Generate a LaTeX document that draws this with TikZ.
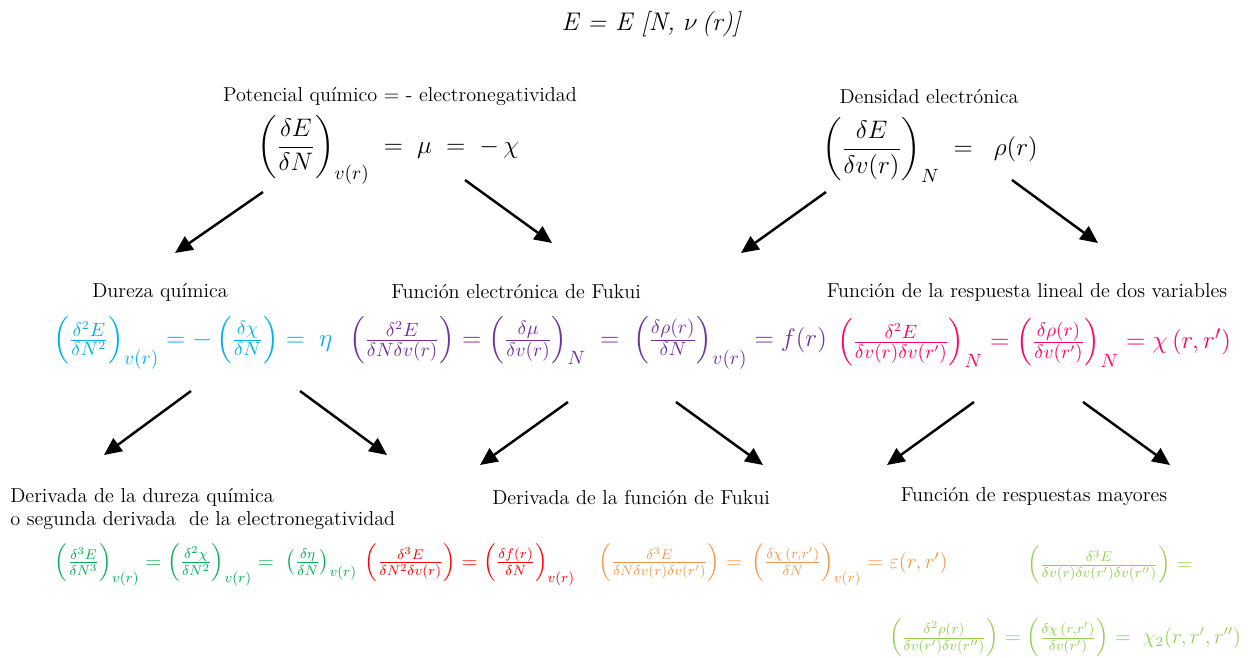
\documentclass[tikz,border=0pt]{standalone}
\usepackage{amsmath,amssymb}
\usepackage{xcolor}
\usetikzlibrary{arrows.meta,positioning}
\definecolor{durezaCyan}{RGB}{0,176,240}
\definecolor{fukuiPurple}{RGB}{112,48,160}
\definecolor{respuestaPink}{RGB}{255,0,102}
\definecolor{derivGreen}{RGB}{0,176,80}
\definecolor{derivRed}{RGB}{255,0,0}
\definecolor{derivOrange}{RGB}{247,150,70}
\definecolor{mayorGreen}{RGB}{146,208,80}
\tikzset{
  etiqueta/.style={font=\fontsize{11.5}{13}\selectfont, inner sep=0pt},
  formulaA/.style={font=\fontsize{15}{18}\selectfont, inner sep=0pt},
  formulaB/.style={font=\fontsize{15}{18}\selectfont, inner sep=0pt},
  formulaC/.style={font=\fontsize{12}{14}\selectfont, inner sep=0pt},
  flecha/.style={line width=1.4pt, -{Triangle[length=10pt,width=9pt]}}
}
\begin{document}
\begin{tikzpicture}[x=0.02cm, y=-0.02cm]
    \useasboundingbox (0,0) rectangle (1250,658);
    % funcional de la energia
    \node[font=\fontsize{14.5}{17}\selectfont\itshape, inner sep=0pt] (energia) at (651,24)
      {E = E [N, $\nu\,$(r)]};
    % primer nivel
    \node[etiqueta] (potencialTxt) at (400,97) {Potencial químico = - electronegatividad};
    \node[formulaA] (potencial) at (388,150)
      {$\left(\dfrac{\delta E}{\delta N}\right)_{v(r)} \;=\; \mu \;=\; -\,\chi$};
    \node[etiqueta] (densidadTxt) at (929,97) {Densidad electrónica};
    \node[formulaA] (densidad) at (930,150)
      {$\left(\dfrac{\delta E}{\delta v(r)}\right)_{N} \;=\;\; \rho(r)$};
    % segundo nivel
    \node[etiqueta] (durezaTxt) at (160,292) {Dureza química};
    \node[formulaB, text=durezaCyan] (dureza) at (193,343)
      {$\left(\frac{\delta^2 E}{\delta N^2}\right)_{v(r)} = -\left(\frac{\delta \chi}{\delta N}\right) =\; \eta$};
    \node[etiqueta] (fukuiTxt) at (516,292) {Función electrónica de Fukui};
    \node[formulaB, text=fukuiPurple] (fukui) at (588,343)
      {$\left(\frac{\delta^2 E}{\delta N\delta v(r)}\right) = \left(\frac{\delta \mu}{\delta v(r)}\right)_{N} \;=\; \left(\frac{\delta \rho(r)}{\delta N}\right)_{v(r)} = f(r)$};
    \node[etiqueta] (respuestaTxt) at (1027,292) {Función de la respuesta lineal de dos variables};
    \node[formulaB, text=respuestaPink] (respuesta) at (1034,343)
      {$\left(\frac{\delta^2 E}{\delta v(r)\delta v(r')}\right)_{N} = \left(\frac{\delta \rho(r)}{\delta v(r')}\right)_{N} = \chi\,(r,r')$};
    % tercer nivel
    \node[etiqueta, anchor=west] (dDurezaTxt) at (10,497) {Derivada de la dureza química};
    \node[etiqueta, anchor=west] (dDurezaTxtB) at (10,521) {o segunda derivada\ \ de la electronegatividad};
    \node[formulaC, text=derivGreen] (dDureza) at (206,565)
      {$\left(\frac{\delta^3 E}{\delta N^3}\right)_{v(r)} = \left(\frac{\delta^2 \chi}{\delta N^2}\right)_{v(r)} =\; \left(\frac{\delta \eta}{\delta N}\right)_{v(r)}$};
    \node[formulaC, text=derivRed] (dFukuiA) at (470,565)
      {$\left(\frac{\delta^3 E}{\delta N^2\delta v(r)}\right) = \left(\frac{\delta f(r)}{\delta N}\right)_{v(r)}$};
    \node[etiqueta] (dFukuiTxt) at (631,497) {Derivada de la función de Fukui};
    \node[formulaC, text=derivOrange] (dFukuiB) at (773,565)
      {$\left(\frac{\delta^3 E}{\delta N\delta v(r)\delta v(r')}\right) =\, \left(\frac{\delta \chi\,(r,r')}{\delta N}\right)_{v(r)} = \varepsilon(r,r')$};
    \node[etiqueta] (mayoresTxt) at (1034,497) {Función de respuestas mayores};
    \node[formulaC, text=mayorGreen] (mayoresA) at (1110,565)
      {$\left(\frac{\delta^3 E}{\delta v(r)\delta v(r')\delta v(r'')}\right) =$};
    \node[formulaC, text=mayorGreen] (mayoresB) at (1065,638)
      {$\left(\frac{\delta^2 \rho(r)}{\delta v(r')\delta v(r'')}\right) = \left(\frac{\delta \chi\,(r,r')}{\delta v(r')}\right) =\; \chi_2(r,r',r'')$};
    % flechas
    \coordinate (p1) at (263,192); \coordinate (p1e) at (175,253);
    \coordinate (p2) at (465,180); \coordinate (p2e) at (552,243);
    \coordinate (d1) at (826,192); \coordinate (d1e) at (741,253);
    \coordinate (d2) at (1012,180); \coordinate (d2e) at (1098,243);
    \coordinate (h1) at (191,391); \coordinate (h1e) at (104,455);
    \coordinate (h2) at (300,391); \coordinate (h2e) at (387,455);
    \coordinate (f1) at (568,402); \coordinate (f1e) at (480,465);
    \coordinate (f2) at (676,402); \coordinate (f2e) at (763,465);
    \coordinate (r1) at (974,402); \coordinate (r1e) at (887,465);
    \coordinate (r2) at (1083,402); \coordinate (r2e) at (1170,465);
    \foreach \a in {p1,p2,d1,d2,h1,h2,f1,f2,r1,r2}
      \draw[flecha] (\a) -- (\a e);
\end{tikzpicture}
\end{document}
